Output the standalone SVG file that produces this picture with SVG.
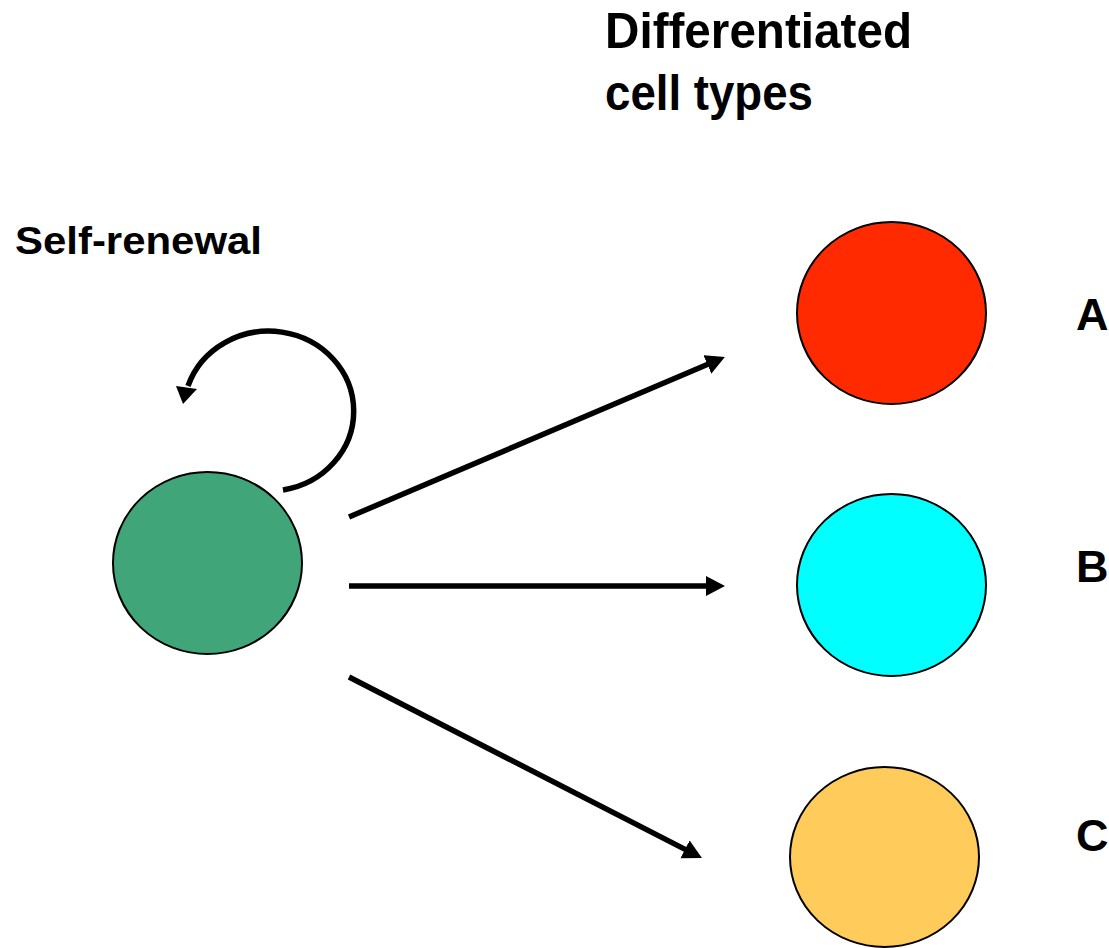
<svg xmlns="http://www.w3.org/2000/svg" width="1109" height="948" viewBox="0 0 1109 948">
<style>
.cell{stroke:#000;stroke-width:2}
.lbl{font-family:"Liberation Sans","Open Sans",sans-serif;font-weight:bold;fill:#000}
.conn{stroke:#000;stroke-width:5.5;fill:none}
</style>
<defs>
<marker id="ah" markerUnits="userSpaceOnUse" markerWidth="22" markerHeight="22" refX="5" refY="10" orient="auto">
<path d="M0,0 L19,10 L0,20 z" fill="#000"/>
</marker>
</defs>
<rect width="1109" height="948" fill="#fff"/>
<g id="title">
<text class="lbl" x="605" y="48" font-size="50" textLength="307" lengthAdjust="spacingAndGlyphs">Differentiated</text>
<text class="lbl" x="605" y="110" font-size="50" textLength="208" lengthAdjust="spacingAndGlyphs">cell types</text>
</g>
<g id="self-renewal-label">
<text class="lbl" x="15" y="254" font-size="39" textLength="247" lengthAdjust="spacingAndGlyphs">Self-renewal</text>
</g>
<g id="stem">
<ellipse class="cell" cx="207.5" cy="563" rx="94.5" ry="91" fill="#40A67A"/>
</g>
<g id="cellA">
<ellipse class="cell" cx="891.5" cy="313" rx="94.5" ry="91" fill="#FF2A00"/>
<text class="lbl" x="1076" y="330" font-size="45">A</text>
</g>
<g id="cellB">
<ellipse class="cell" cx="891.5" cy="585" rx="94.5" ry="91" fill="#00FFFF"/>
<text class="lbl" x="1076" y="582" font-size="45">B</text>
</g>
<g id="cellC">
<ellipse class="cell" cx="884.5" cy="857" rx="94.5" ry="90" fill="#FFCB5A"/>
<text class="lbl" x="1076" y="851" font-size="45">C</text>
</g>
<g id="connectors">
<path class="conn" d="M283,490 A85,80 0 1 0 188,386"/>
<polygon points="176,386 197,389 183,404" fill="#000"/>
<line class="conn" x1="349" y1="517" x2="712" y2="362.5" marker-end="url(#ah)"/>
<line class="conn" x1="349" y1="586" x2="711" y2="586" marker-end="url(#ah)"/>
<line class="conn" x1="349" y1="677" x2="689.5" y2="851.6" marker-end="url(#ah)"/>
</g>
</svg>
